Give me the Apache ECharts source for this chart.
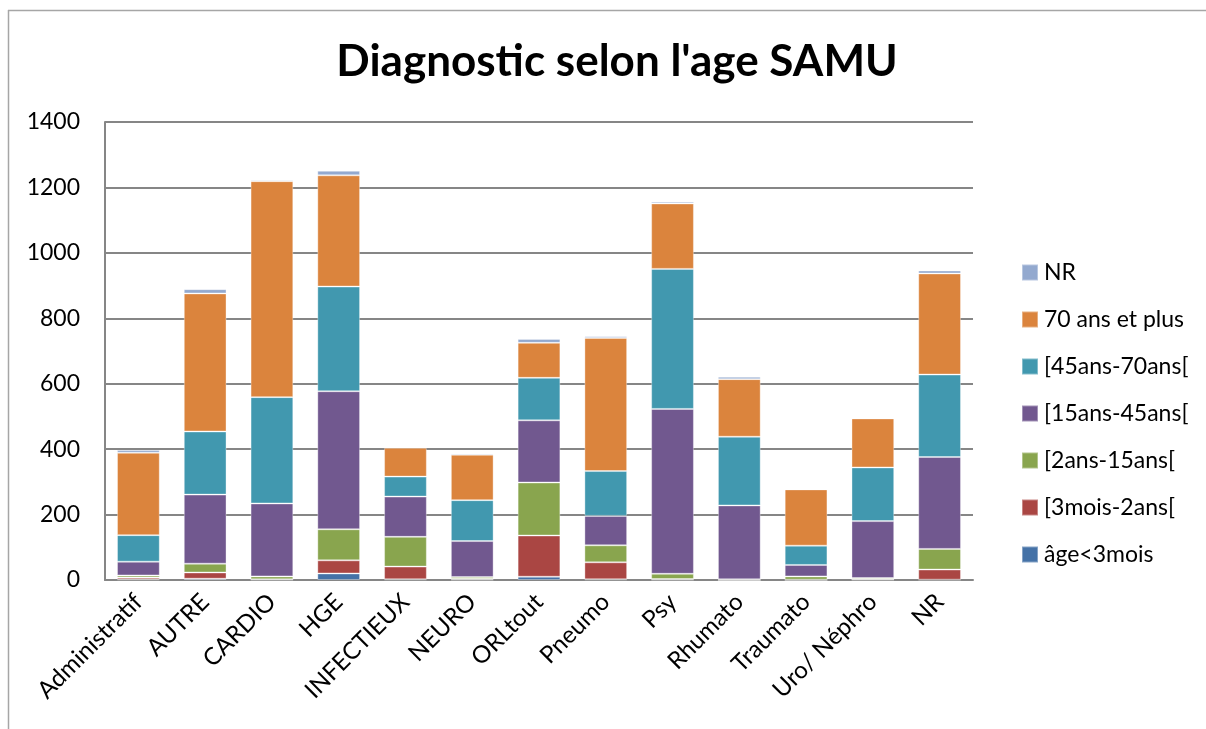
<!DOCTYPE html>
<html>
<head>
<meta charset="utf-8">
<script src="https://cdn.jsdelivr.net/npm/echarts@6/dist/echarts.min.js"></script>
<style>
  html, body { margin: 0; padding: 0; background: #fff; }
  #chart { width: 1206px; height: 729px; }
</style>
</head>
<body>
<div id="chart"></div>
<script>
// categories
const categories = ['Administratif', 'AUTRE', 'CARDIO', 'HGE', 'INFECTIEUX', 'NEURO', 'ORLtout',
  'Pneumo', 'Psy', 'Rhumato', 'Traumato', 'Uro/ Néphro', 'NR']

// one array per age group
const age3mois   = [2, 4, 1, 20, 2, 1, 10, 2, 1, 0, 0, 1, 1]
const mois3ans2  = [6, 19, 1, 40, 39, 3, 126, 52, 2, 0, 1, 1, 31]
const ans2ans15  = [6, 27, 9, 95, 91, 5, 162, 52, 16, 2, 10, 4, 63]
const ans15ans45 = [42, 211, 223, 422, 123, 110, 190, 90, 504, 226, 35, 174, 281]
const ans45ans70 = [81, 193, 325, 320, 61, 125, 130, 137, 428, 210, 59, 164, 252]
const ans70plus  = [252, 422, 660, 340, 88, 139, 107, 407, 200, 176, 172, 150, 309]
const nonRenseig = [8, 13, 4, 14, 3, 4, 12, 5, 5, 7, 3, 3, 9]

const seriesNames = ['âge<3mois', '[3mois-2ans[', '[2ans-15ans[', '[15ans-45ans[', '[45ans-70ans[', '70 ans et plus', 'NR']
const seriesData = [age3mois, mois3ans2, ans2ans15, ans15ans45, ans45ans70, ans70plus, nonRenseig]
const colors = ['#4572A7', '#AA4643', '#89A54E', '#71588F', '#4198AF', '#DB843D', '#93A9CF']

const yTicks = [0, 200, 400, 600, 800, 1000, 1200, 1400]

const font = 'Lato, "Open Sans", sans-serif'

const chart = echarts.init(document.getElementById('chart'))

const option = {
  animation: false,
  color: colors,
  title: {
    text: "Diagnostic selon l'age SAMU",
    left: 612,
    textAlign: 'center',
    top: 35,
    textStyle: { fontFamily: font, fontSize: 44, fontWeight: 'bold', color: '#000' }
  },
  // chart frame (left and top edges only)
  graphic: [
    { type: 'line', shape: { x1: 8.5, y1: 10, x2: 8.5, y2: 729 }, style: { stroke: '#a6a6a6', lineWidth: 1.5 } },
    { type: 'line', shape: { x1: 8, y1: 10.5, x2: 1206, y2: 10.5 }, style: { stroke: '#a6a6a6', lineWidth: 1.5 } }
  ],
  legend: {
    orient: 'vertical',
    left: 1016,
    top: 256,
    itemWidth: 16,
    itemHeight: 16,
    itemGap: 24,
    icon: 'rect',
    data: seriesNames.slice().reverse(),
    textStyle: { fontFamily: font, fontSize: 23, color: '#000', padding: [0, 0, 0, 1] }
  },
  grid: {
    left: 105,
    right: 233,
    top: 122,
    bottom: 149
  },
  xAxis: {
    type: 'category',
    data: categories,
    axisLine: { lineStyle: { color: '#868686', width: 2 } },
    axisTick: { show: false },
    axisLabel: {
      interval: 0,
      rotate: 45,
      margin: 18,
      fontFamily: font,
      fontSize: 24,
      color: '#000'
    }
  },
  yAxis: {
    type: 'value',
    min: yTicks[0],
    max: yTicks[yTicks.length - 1],
    interval: 200,
    axisLine: { show: true, lineStyle: { color: '#868686', width: 2 } },
    axisTick: { show: false },
    splitLine: { lineStyle: { color: '#868686', width: 2 } },
    axisLabel: {
      margin: 25,
      fontFamily: font,
      fontSize: 23,
      color: '#000',
      formatter: v => String(v)
    }
  },
  series: seriesNames.map((name, i) => ({
    name: name,
    type: 'bar',
    stack: 'total',
    barWidth: '64%',
    data: seriesData[i],
    itemStyle: { borderColor: 'rgba(255,255,255,0.35)', borderWidth: 1 }
  }))
}

chart.setOption(option)
</script>
</body>
</html>
